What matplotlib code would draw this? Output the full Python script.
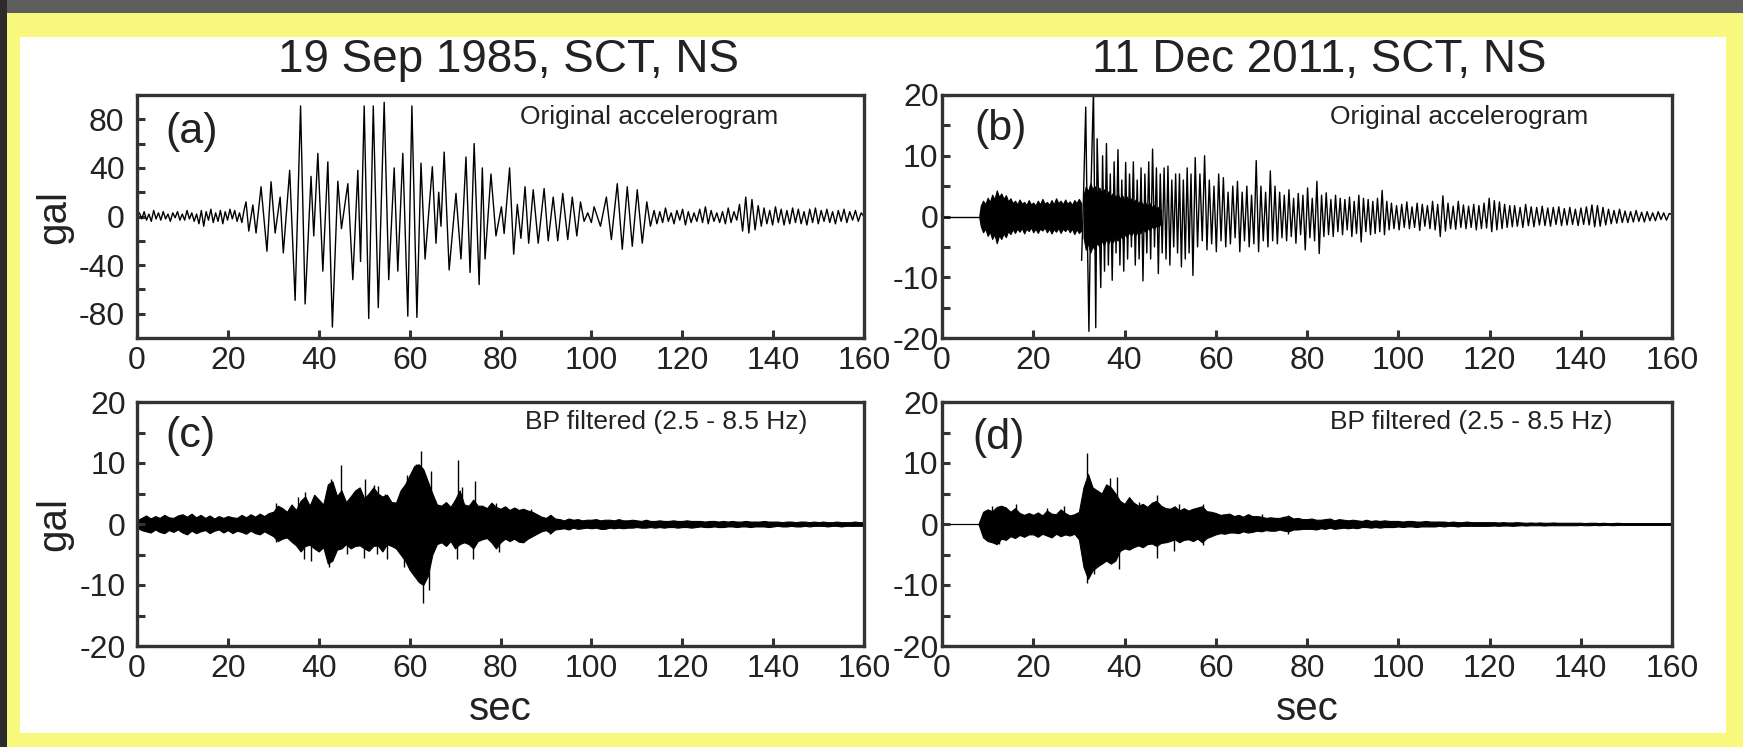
import numpy as np
import matplotlib.pyplot as plt
from matplotlib.patches import Rectangle

plt.rcParams['font.family'] = ['Liberation Sans', 'DejaVu Sans']
plt.rcParams['axes.unicode_minus'] = False

# ---------------------------------------------------------------
# 19 Sep 1985, SCT, NS -- original accelerogram (gal)
# ---------------------------------------------------------------
# small ripples before the strong phase, evenly spread over the span
a_pre_span = (0.0, 23.6)
a_pre_peaks = [0, 3, -2, 4, -3, 2, -4, 5, -2, 3,
               -3, 4, -2, 2, -4, 3, -1, 4, -3, 2,
               -3, 5, -2, 3, -4, 2, -6, 5, -8, 4,
               -3, 6, -5, 3, -4, 5, -6, 4, -3, 6,
               -2, 5, -4, 3, -5, 6]
# strong phase: turning points (sec, gal)
a_main = [(24.0, 12), (24.6, -12), (25.5, 9.5), (26.2, -13.6), (27.3, 24.5),
          (28.6, -28.6), (29.5, 28.6), (30.4, -13.6), (31.5, 16), (32.2, -30),
          (33.6, 38), (34.8, -69), (36.0, 91), (37.0, -72), (38.3, 33),
          (38.9, -16), (39.8, 52), (40.9, -45), (42.0, 45), (43.0, -91),
          (44.2, 29), (45.0, -10), (46.4, 27), (47.5, -52), (48.6, 38),
          (49.2, -37), (50.0, 91), (51.0, -84), (52.0, 91), (53.1, -75),
          (54.4, 94), (55.4, -52), (56.6, 40), (57.4, -45), (58.5, 52),
          (59.6, -82), (60.5, 91), (61.6, -83), (62.5, 44), (63.4, -35),
          (65.0, 41), (65.8, -22), (66.4, 20), (66.9, -8), (67.6, 53),
          (68.7, -44), (70.2, 19), (71.3, -35), (72.4, 49), (73.3, -46),
          (74.2, 60), (75.3, -56), (76.0, 40), (76.6, -35), (77.9, 35),
          (79.0, -16), (80.2, 8), (80.8, -14), (82.0, 40), (82.9, -31),
          (83.7, 10), (84.5, -18), (85.4, 24.5), (86.2, -22), (87.2, 22),
          (88.3, -22), (89.6, 23), (90.5, -20), (91.6, 16), (92.6, -20),
          (93.7, 19), (94.8, -19), (95.8, 16), (96.8, -16), (97.6, 12),
          (98.4, -4), (99.2, 3), (100.0, -5), (100.6, 8), (102.0, -8),
          (103.3, 16), (104.4, -19), (105.7, 27), (106.8, -27), (107.9, 24.5),
          (109.0, -24.5), (110.1, 22), (111.2, -22), (112.2, 12), (113.0, -8)]
a_coda1_span = (113.8, 132.0)
a_coda1_peaks = [5, -6, 4, -5, 7, -4, 3, -6, 5, -3, 6, -7, 4, -5, 3,
                 -4, 6, -5, 8, -6, 5, -4, 3, -5, 4, -6, 7, -5, 4, -3]
a_bump_span = (132.6, 137.4)
a_bump_peaks = [10, -12, 16, -13.6, 14, -11, 9, -8]
a_coda2_span = (138.0, 160.0)
a_coda2_peaks = [7, -6, 5, -7, 8, -5, 6, -7, 5, -6, 7, -5, 6, -6, 4, -7, 6, -5,
                 7, -6, 5, -4, 6, -5, 4, -6, 5, -4, 6, -5, 4, -3, 5, -4, 3, 0]

# ---------------------------------------------------------------
# 11 Dec 2011, SCT, NS -- original accelerogram (gal)
# ---------------------------------------------------------------
b_onset = 8.2
# P-wave band, envelope read every half second
b_band_sec = np.r_[8.2, np.arange(8.5, 30.6, 0.5)]
b_band_hi = [0.3, 1.8, 2.6, 2.0, 3.1, 2.4, 3.6, 2.8, 4.3, 3.2, 3.8, 2.9,
             3.5, 2.5, 3.0, 2.2, 2.6, 2.0, 2.8, 2.1, 2.4, 1.9, 2.7, 2.0,
             2.3, 1.8, 2.6, 2.0, 2.9, 2.1, 2.4, 1.9, 2.7, 2.0, 3.0, 2.2,
             2.6, 2.0, 2.8, 2.1, 2.5, 1.9, 2.7, 2.2, 2.9, 2.2]
b_band_lo = [-0.3, -1.6, -2.6, -2.0, -3.2, -2.5, -3.7, -2.9, -4.4, -3.1, -3.7, -2.8,
             -3.4, -2.4, -2.9, -2.1, -2.7, -2.0, -2.5, -1.9, -2.8, -2.0, -2.4, -1.8,
             -2.6, -2.0, -2.7, -2.0, -2.3, -1.8, -2.6, -2.0, -2.8, -2.1, -2.5, -1.9,
             -2.7, -2.0, -2.4, -1.9, -2.6, -2.0, -2.9, -2.1, -2.7, -2.3]
# S-wave arrival: turning points (sec, gal)
b_burst = [(30.6, -7.2), (31.0, 3), (31.5, 18), (31.9, -5), (32.2, -18.9),
           (32.7, 6), (33.2, 21), (33.7, -18.3), (34.0, 12.8), (34.8, -11.7)]
# dark core right after the arrival, read every half second
b_core_sec = np.arange(31.0, 48.5, 0.5)
b_core_hi = [3.5, 5.0, 4.2, 5.5, 4.6, 5.0, 4.0, 4.8, 3.8, 4.5, 3.6, 4.2,
             3.4, 4.0, 3.2, 3.8, 3.0, 3.5, 2.8, 3.3, 2.6, 3.0, 2.4, 2.9,
             2.2, 2.7, 2.0, 2.4, 1.8, 2.2, 1.6, 1.9, 1.4, 1.6, 1.0]
b_core_lo = [-3.5, -5.5, -4.5, -6.0, -5.0, -5.4, -4.4, -5.0, -4.0, -4.8, -3.8, -4.4,
             -3.6, -4.2, -3.4, -4.0, -3.2, -3.6, -3.0, -3.4, -2.7, -3.1, -2.5, -3.0,
             -2.3, -2.8, -2.1, -2.5, -1.9, -2.3, -1.7, -2.0, -1.5, -1.7, -1.0]
# later shaking, turning points evenly spread over each span
b_segments = [
    ((35.2, 55.0), [10, -9, 12, -8, 7, -10.5, 9, -6, 11, -8,
                    6, -9, 8.9, -7, 7, -5, 9, -8, 6, -7,
                    8, -10.6, 7, -6, 9, -7, 11.1, -5, 8, -9.4,
                    7, -6, 8, -7, 8.3, -8, 6, -5, 7, -6,
                    7, -8.3, 6, -7, 8, -6, 7, -9.7]),
    ((55.5, 73.5), [9.7, -5, 7, -4, 10, -5.5, 6, -4.5, 5, -5.8,
                    7, -4, 6.4, -5, 4, -4.5, 5, -3.5, 5.8, -5.8,
                    4, -4, 5, -5, 3.5, -4.5, 9.2, -5.8, 5, -4,
                    4, -5, 7.5, -4, 5, -4.5]),
    ((74.0, 98.0), [4, -3.5, 3.5, -4, 4.4, -3.3, 3, -4.4, 3.8, -3,
                    3.5, -5.5, 4.7, -3.5, 3, -4, 5.8, -6.1, 3.5, -3.3,
                    3.9, -3, 2.8, -3.3, 3.5, -2.5, 3, -3, 2.8, -2.2,
                    3.2, -3.3, 2.5, -2.8, 3.5, -4.2, 3, -2.5, 2.8, -3,
                    2.5, -2.8, 3, -2.5, 4.3, -3, 2.5, -2.2]),
    ((98.5, 125.0), [2.2, -2, 1.8, -2.2, 2, -1.8, 2.4, -2, 1.6, -1.8,
                     2.2, -2.3, 2, -1.6, 1.8, -2, 2.5, -2.2, 2, -3.3,
                     3.4, -2.4, 2.2, -2, 1.7, -2.1, 2.5, -1.8, 1.9, -2,
                     1.7, -1.8, 2, -2.2, 1.8, -2, 2.2, -1.9, 3, -2.5,
                     2.6, -2.2, 2.4, -2, 2, -1.8, 1.8, -1.7]),
    ((125.5, 160.0), [1.8, -1.6, 1.5, -1.8, 2, -1.5, 1.6, -1.7, 1.5, -1.4,
                      1.7, -1.5, 1.4, -1.6, 1.5, -1.3, 1.6, -1.5, 1.3, -1.4,
                      1.5, -1.3, 1.2, -1.5, 1.4, -1.3, 1.6, -1.4, 1.9, -1.7,
                      1.8, -1.6, 1.5, -1.4, 1.2, -1.2, 1.0, -1.1, 1.2, -1.0,
                      0.9, -1.0, 0.8, -0.9, 1.0, -0.8, 0.7, -0.9, 0.8, -0.7,
                      0.6, -0.7, 0.8, -0.5, 0.6, -0.6, 0.5, 0.3]),
]

# ---------------------------------------------------------------
# band-pass filtered records (2.5 - 8.5 Hz): envelope at each second
# ---------------------------------------------------------------
env_sec = np.arange(0, 161)

c_hi = [0.6, 1.0, 1.4, 0.9, 1.3, 1.0, 1.5, 1.1, 1.0, 1.4,
        1.6, 1.2, 1.7, 1.1, 1.5, 1.0, 1.4, 0.9, 1.3, 1.0,
        1.3, 1.1, 1.0, 1.5, 1.1, 1.6, 1.2, 1.7, 1.3, 1.8,
        2.0, 3.0, 2.6, 2.0, 3.2, 2.3, 3.8, 4.5, 3.0, 4.8,
        4.0, 3.2, 6.5, 7.0, 4.6, 5.5, 3.6, 4.5, 5.5, 6.0,
        4.2, 5.0, 6.0, 5.0, 4.5, 4.8, 3.6, 3.5, 5.5, 6.5,
        8.0, 9.5, 9.8, 9.0, 7.0, 5.0, 3.2, 3.0, 3.6, 2.8,
        4.0, 5.5, 3.2, 3.0, 4.0, 3.0, 3.0, 2.6, 3.5, 2.8,
        2.5, 2.9, 2.3, 2.7, 2.3, 2.5, 2.2, 2.0, 1.6, 1.2,
        1.0, 1.5, 0.9, 0.8, 0.6, 0.9, 0.7, 0.8, 0.6, 0.7,
        0.7, 0.8, 0.6, 0.7, 0.7, 0.6, 0.8, 0.6, 0.6, 0.7,
        0.6, 0.5, 0.7, 0.5, 0.5, 0.6, 0.5, 0.5, 0.6, 0.5,
        0.5, 0.6, 0.5, 0.5, 0.5, 0.4, 0.5, 0.5, 0.4, 0.5,
        0.4, 0.5, 0.4, 0.4, 0.5, 0.4, 0.4, 0.4, 0.5, 0.4,
        0.4, 0.4, 0.3, 0.4, 0.4, 0.3, 0.4, 0.4, 0.3, 0.4,
        0.3, 0.4, 0.3, 0.3, 0.4, 0.3, 0.3, 0.3, 0.4, 0.3, 0.3]
c_lo = [-0.6, -1.0, -1.2, -1.4, -0.9, -1.3, -1.5, -1.0, -1.3, -0.9,
        -1.4, -1.7, -1.1, -1.5, -1.2, -1.0, -1.5, -1.1, -0.9, -1.4,
        -1.0, -1.5, -1.1, -1.3, -1.6, -1.1, -1.5, -1.7, -1.2, -1.6,
        -2.0, -2.8, -2.4, -2.2, -2.9, -3.5, -4.5, -3.6, -3.4, -4.0,
        -4.5, -3.8, -6.5, -6.0, -4.2, -4.0, -3.3, -4.0, -3.6, -3.5,
        -4.0, -4.4, -3.6, -3.5, -4.5, -3.3, -3.6, -4.0, -5.0, -6.0,
        -7.5, -8.5, -9.5, -10.0, -8.5, -5.0, -3.3, -3.0, -3.6, -2.8,
        -4.0, -3.3, -3.0, -3.3, -4.0, -2.8, -2.5, -2.3, -3.0, -4.0,
        -3.0, -2.4, -2.8, -2.4, -2.9, -3.0, -2.4, -2.0, -1.6, -1.2,
        -1.0, -1.5, -0.9, -0.8, -0.7, -0.9, -0.6, -0.8, -0.7, -0.6,
        -0.7, -0.6, -0.8, -0.8, -0.6, -0.7, -0.6, -0.7, -0.6, -0.6,
        -0.5, -0.6, -0.6, -0.5, -0.6, -0.5, -0.6, -0.5, -0.5, -0.6,
        -0.5, -0.5, -0.6, -0.5, -0.4, -0.5, -0.5, -0.4, -0.5, -0.5,
        -0.4, -0.4, -0.5, -0.4, -0.4, -0.5, -0.4, -0.4, -0.4, -0.5,
        -0.4, -0.3, -0.4, -0.4, -0.3, -0.4, -0.4, -0.3, -0.4, -0.3,
        -0.3, -0.3, -0.4, -0.3, -0.3, -0.4, -0.3, -0.3, -0.3, -0.3, -0.3]
c_spikes = [(30.7, 3.5), (35.4, 4.4), (37.0, 5.2), (42.7, 7.4), (45.0, 9.6),
            (48.2, 4.9), (50.1, 7.4), (52.2, 6.4), (53.0, 6.3), (54.5, 4.9),
            (59.5, 8.0), (61.3, 9.8), (62.5, 11.9), (64.6, 8.7), (70.6, 10.5),
            (71.6, 6.0), (74.4, 7.0), (79.1, 3.5), (83.5, 2.7), (86.8, 2.5),
            (90.8, 1.5),
            (30.7, -3.0), (36.7, -5.7), (38.3, -6.0), (42.2, -7.1), (46.3, -4.9),
            (50.0, -5.5), (52.9, -4.9), (55.1, -5.7), (58.7, -7.1), (63.0, -13.0),
            (64.3, -10.8), (70.4, -5.7), (74.0, -5.7), (79.7, -4.6), (84.6, -3.0),
            (90.8, -1.6)]

d_hi = [0, 0, 0, 0, 0, 0, 0, 0, 0, 2.0,
        2.4, 2.1, 2.8, 3.0, 2.7, 2.0, 2.6, 1.8, 1.5, 1.8,
        1.5, 1.9, 1.4, 2.2, 1.7, 1.6, 2.4, 1.8, 1.4, 1.6,
        2.0, 6.0, 8.2, 6.0, 5.5, 5.0, 6.5, 6.0, 5.0, 3.8,
        3.3, 4.4, 3.5, 3.0, 3.3, 2.8, 3.5, 3.8, 3.0, 2.6,
        2.5, 2.9, 2.2, 2.6, 2.2, 2.5, 2.7, 2.9, 2.1, 2.0,
        1.8, 1.5, 1.6, 1.7, 1.3, 1.5, 1.2, 1.6, 1.3, 1.3,
        1.2, 1.0, 1.1, 1.0, 1.0, 1.2, 1.3, 0.9, 1.0, 0.8,
        0.8, 0.9, 0.7, 0.7, 0.8, 0.9, 0.6, 0.8, 0.7, 0.6,
        0.7, 0.6, 0.5, 0.7, 0.5, 0.6, 0.5, 0.6, 0.5, 0.5,
        0.5, 0.4, 0.5, 0.5, 0.4, 0.4, 0.5, 0.4, 0.4, 0.4,
        0.4, 0.3, 0.4, 0.3, 0.3, 0.4, 0.3, 0.3, 0.3, 0.3,
        0.3, 0.3, 0.25, 0.3, 0.25, 0.25, 0.3, 0.25, 0.2, 0.25,
        0.2, 0.25, 0.2, 0.2, 0.25, 0.2, 0.2, 0.2, 0.2, 0.2,
        0.2, 0.15, 0.2, 0.2, 0.15, 0.2, 0.15, 0.15, 0.2, 0.15,
        0.15, 0.15, 0.15, 0.15, 0.15, 0.15, 0.15, 0.15, 0.15, 0.15, 0.15]
d_lo = [0, 0, 0, 0, 0, 0, 0, 0, 0, -2.2,
        -2.8, -3.0, -3.3, -2.4, -2.6, -2.0, -2.3, -1.8, -2.1, -1.7,
        -1.7, -2.1, -1.6, -1.9, -2.2, -1.6, -2.0, -1.7, -1.9, -1.6,
        -2.5, -7.0, -9.0, -7.6, -7.0, -6.5, -6.0, -6.5, -6.0, -4.4,
        -4.0, -4.2, -3.8, -3.5, -3.8, -3.3, -3.2, -3.6, -3.1, -3.0,
        -2.8, -2.5, -3.0, -2.6, -2.5, -2.8, -2.4, -3.0, -2.3, -2.0,
        -1.7, -1.5, -1.6, -1.4, -1.4, -1.5, -1.2, -1.4, -1.3, -1.1,
        -1.2, -1.0, -1.1, -1.1, -0.9, -1.1, -1.2, -0.9, -0.9, -0.8,
        -0.8, -0.8, -0.9, -0.7, -0.8, -0.6, -0.8, -0.7, -0.6, -0.7,
        -0.6, -0.7, -0.5, -0.5, -0.6, -0.5, -0.6, -0.5, -0.5, -0.5,
        -0.4, -0.5, -0.4, -0.4, -0.5, -0.4, -0.4, -0.4, -0.4, -0.3,
        -0.4, -0.3, -0.3, -0.4, -0.3, -0.3, -0.3, -0.3, -0.3, -0.3,
        -0.3, -0.25, -0.3, -0.25, -0.25, -0.3, -0.25, -0.2, -0.25, -0.2,
        -0.2, -0.2, -0.25, -0.2, -0.2, -0.2, -0.2, -0.2, -0.2, -0.2,
        -0.15, -0.2, -0.2, -0.15, -0.2, -0.15, -0.15, -0.2, -0.15, -0.15,
        -0.15, -0.15, -0.15, -0.15, -0.15, -0.15, -0.15, -0.15, -0.15, -0.15, -0.15]
d_spikes = [(11.0, 2.9), (16.3, 3.3), (23.1, 2.7), (26.7, 2.9), (31.8, 11.6),
            (36.9, 7.5), (38.4, 7.7), (43.1, 3.6), (47.1, 4.8), (51.9, 3.3),
            (57.3, 3.3), (67.2, 1.6), (70.1, 1.6), (75.9, 1.5),
            (12.5, -3.3), (31.8, -9.6), (33.3, -8.2), (38.7, -7.4), (47.1, -5.5),
            (50.8, -4.4), (57.3, -3.5), (75.9, -1.7)]

titles = ['19 Sep 1985, SCT, NS', '11 Dec 2011, SCT, NS']
panel_tags = ['(a)', '(b)', '(c)', '(d)']
notes = ['Original accelerogram', 'Original accelerogram',
         'BP filtered (2.5 - 8.5 Hz)', 'BP filtered (2.5 - 8.5 Hz)']

INK = '#222222'
FRAME = '#333333'


def spread(span, peaks):
    """Turning points evenly spaced over a time span."""
    return np.linspace(span[0], span[1], len(peaks)), np.asarray(peaks, float)


def style(ax, ylim, major, minor, ypad):
    ax.set_xlim(0, 160)
    ax.set_ylim(*ylim)
    ax.set_xticks(np.arange(0, 161, 20))
    ax.set_yticks(major)
    ax.set_yticks(minor, minor=True)
    for s in ax.spines.values():
        s.set_linewidth(2.4)
        s.set_color(FRAME)
    ax.tick_params(which='both', direction='in', length=6, width=2.2,
                   top=False, right=False, color=FRAME)
    ax.tick_params(axis='x', pad=6, labelsize=23, labelcolor=INK)
    ax.tick_params(axis='y', pad=ypad, labelsize=23, labelcolor=INK)


W, H = 1743, 747
fig = plt.figure(figsize=(W / 100, H / 100), dpi=100, facecolor='#2b2b2b')

# frame around the figure: grey strip, yellow border, white sheet
fig.patches.append(Rectangle((7 / W, 1 - 13 / H), 1, 13 / H, transform=fig.transFigure,
                             facecolor='#5e5e5e', edgecolor='none', zorder=-3))
fig.patches.append(Rectangle((7 / W, 0), 1, 1 - 13 / H, transform=fig.transFigure,
                             facecolor='#f8f87c', edgecolor='none', zorder=-2))
fig.patches.append(Rectangle((20 / W, 1 - 733 / H), 1706 / W, 696 / H,
                             transform=fig.transFigure,
                             facecolor='white', edgecolor='none', zorder=-1))

ax_a = fig.add_axes([137 / W, 1 - 338 / H, 727 / W, 243 / H])
ax_b = fig.add_axes([942 / W, 1 - 338 / H, 730 / W, 243 / H])
ax_c = fig.add_axes([137 / W, 1 - 646 / H, 727 / W, 244 / H])
ax_d = fig.add_axes([942 / W, 1 - 646 / H, 730 / W, 244 / H])
axes = [ax_a, ax_b, ax_c, ax_d]

# (a) original 1985 record
t0, v0 = spread(a_pre_span, a_pre_peaks)
t1 = np.array([p[0] for p in a_main])
v1 = np.array([p[1] for p in a_main])
t2, v2 = spread(a_coda1_span, a_coda1_peaks)
t3, v3 = spread(a_bump_span, a_bump_peaks)
t4, v4 = spread(a_coda2_span, a_coda2_peaks)
ax_a.plot(np.concatenate([t0, t1, t2, t3, t4]),
          np.concatenate([v0, v1, v2, v3, v4]), color='black', lw=1.0)

# (b) original 2011 record
ax_b.plot([0, b_onset], [0, 0], color='black', lw=1.0)
ax_b.fill_between(b_band_sec, b_band_lo, b_band_hi, color='black', lw=0.8)
ax_b.fill_between(b_core_sec, b_core_lo, b_core_hi, color='black', lw=0.6)
bt = [p[0] for p in b_burst]
bv = [p[1] for p in b_burst]
for span, peaks in b_segments:
    st, sv = spread(span, peaks)
    bt.extend(st)
    bv.extend(sv)
ax_b.plot(bt, bv, color='black', lw=1.0)

# (c), (d) band-pass filtered records
for ax, hi, lo, spikes in [(ax_c, c_hi, c_lo, c_spikes), (ax_d, d_hi, d_lo, d_spikes)]:
    ax.fill_between(env_sec, lo, hi, color='black', lw=0.8)
    ax.vlines([s[0] for s in spikes], 0, [s[1] for s in spikes], color='black', lw=1.0)

style(ax_a, (-100, 100), [-80, -40, 0, 40, 80], [-60, -20, 20, 60], 9)
style(ax_b, (-20, 20), [-20, -10, 0, 10, 20], [-15, -5, 5, 15], 2.5)
style(ax_c, (-20, 20), [-20, -10, 0, 10, 20], [-15, -5, 5, 15], 8)
style(ax_d, (-20, 20), [-20, -10, 0, 10, 20], [-15, -5, 5, 15], 2.5)

tag_pos = [(0.039, 0.848), (0.044, 0.86), (0.039, 0.86), (0.042, 0.852)]
note_pos = [(0.882, 0.909), (0.885, 0.909), (0.922, 0.918), (0.919, 0.918)]
for ax, tag, note, tp, npos in zip(axes, panel_tags, notes, tag_pos, note_pos):
    ax.text(tp[0], tp[1], tag, transform=ax.transAxes, fontsize=31,
            color=INK, ha='left', va='center')
    ax.text(npos[0], npos[1], note, transform=ax.transAxes, fontsize=19,
            color=INK, ha='right', va='center')

for ax in (ax_a, ax_c):
    ax.set_ylabel('gal', fontsize=29, color=INK, va='center')
    ax.yaxis.set_label_coords(-0.114, 0.5)
for ax in (ax_c, ax_d):
    ax.set_xlabel('sec', fontsize=29, color=INK, va='center')
    ax.xaxis.set_label_coords(0.5, -0.258)

fig.text(509 / W, 1 - 72 / H, titles[0], fontsize=33, color=INK,
         ha='center', va='baseline')
fig.text(1319 / W, 1 - 72 / H, titles[1], fontsize=33, color=INK,
         ha='center', va='baseline')

fig.savefig('out.png', dpi=100, facecolor=fig.get_facecolor())
